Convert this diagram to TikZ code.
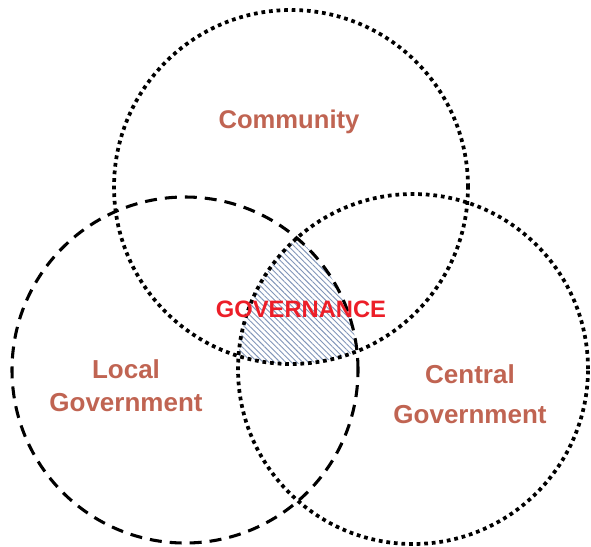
\documentclass[tikz,border=0pt]{standalone}
\usepackage{fontspec}
\setmainfont{Liberation Sans}
\usetikzlibrary{patterns.meta}
\definecolor{labelbrown}{RGB}{192,100,82}
\definecolor{govred}{RGB}{236,30,40}
\definecolor{hatchblue}{RGB}{130,150,185}
\tikzset{
  dotcircle/.style={line width=2.8pt, dash pattern=on 2.8pt off 2.9pt},
  dashcircle/.style={line width=2.3pt, dash pattern=on 9pt off 6pt},
  sectorlabel/.style={text=labelbrown, font=\fontsize{19.5}{24.75}\selectfont\bfseries, align=center, anchor=base},
}

\begin{document}
\begin{tikzpicture}[x=0.75pt,y=-0.75pt]
		\useasboundingbox (0,0) rectangle (591,546);
		\coordinate (C) at (291,187);   % community
		\coordinate (L) at (185,370);   % local government
		\coordinate (G) at (413,369);   % central government
		% shared region
		\begin{scope}
			\clip (C) circle (132.75pt);
			\clip (L) circle (129.75pt);
			\fill[pattern={Lines[angle=-45, distance=3pt, line width=0.7pt]}, pattern color=hatchblue] (G) circle (131.25pt);
		\end{scope}
		\draw[dotcircle] (C) circle (132.75pt);
		\draw[dashcircle] (L) circle (129.75pt);
		\draw[dotcircle] (G) circle (131.25pt);
		\node[sectorlabel, font=\fontsize{19.2}{20}\selectfont\bfseries] (community) at (289,128) {Community};
		\node[sectorlabel] (local) at (126,411) {Local\\Government};
		\node[sectorlabel, font=\fontsize{19.5}{30}\selectfont\bfseries] (central) at (470,423) {Central\\Government};
		\node[text=govred, font=\fontsize{17.8}{20}\selectfont\bfseries, anchor=base] (governance) at (301,317) {GOVERNANCE};
	\end{tikzpicture}
\end{document}
